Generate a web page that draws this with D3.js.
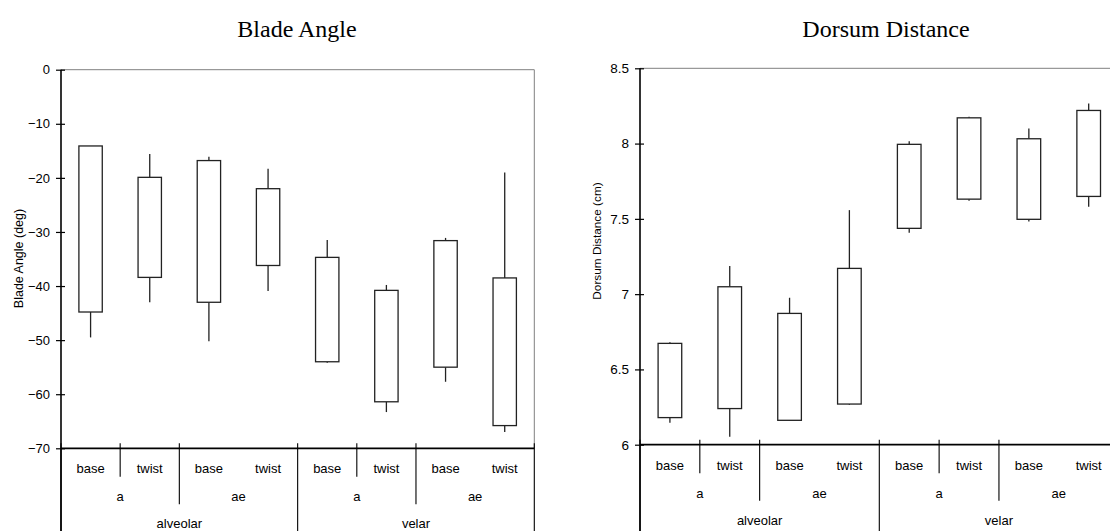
<!DOCTYPE html>
<html>
<head>
<meta charset="utf-8">
<script src="https://cdn.jsdelivr.net/npm/d3@7"></script>
<style>
  html, body { margin: 0; padding: 0; background: #fff; overflow: hidden; }
  svg { display: block; }
  text { font-family: "Liberation Sans", Arial, sans-serif; fill: #000; }
  .title { font-family: "Liberation Serif", "Times New Roman", serif; }
</style>
</head>
<body>
<svg id="chart" width="1110" height="531"></svg>
<script>
// Grouping levels along the x axis
const positions = ["base", "twist"];
const vowels = ["a", "ae"];
const places = ["alveolar", "velar"];

// Blade angle (deg): whisker low, box low, box high, whisker high per condition
const bladeWhiskerLow  = [-49.5, -43.0, -50.2, -40.9, -54.2, -63.3, -57.7, -67.0];
const bladeBoxLow      = [-44.8, -38.4, -43.0, -36.2, -54.0, -61.4, -55.0, -65.8];
const bladeBoxHigh     = [-14.1, -19.9, -16.8, -22.0, -34.7, -40.8, -31.6, -38.5];
const bladeWhiskerHigh = [-14.1, -15.6, -16.1, -18.3, -31.5, -39.8, -31.1, -19.0];
const bladeTicks = [0, -10, -20, -30, -40, -50, -60, -70];

// Dorsum distance (cm)
const dorsumWhiskerLow  = [6.146, 6.053, 6.160, 6.265, 7.408, 7.620, 7.483, 7.580];
const dorsumBoxLow      = [6.180, 6.240, 6.162, 6.270, 7.437, 7.631, 7.497, 7.649];
const dorsumBoxHigh     = [6.673, 7.049, 6.872, 7.171, 7.995, 8.171, 8.032, 8.220];
const dorsumWhiskerHigh = [6.680, 7.187, 6.976, 7.558, 8.015, 8.178, 8.100, 8.267];
const dorsumTicks = [6, 6.5, 7, 7.5, 8, 8.5];

// Conditions in plotting order: place > vowel > position
const conditions = [];
places.forEach(p => vowels.forEach(v => positions.forEach(s => conditions.push(p + "|" + v + "|" + s))));

const svg = d3.select("#chart");

function drawPanel(cfg) {
  const g = svg.append("g");
  const x = d3.scaleBand().domain(conditions).range([cfg.x0, cfg.x1]).padding(0);
  const y = d3.scaleLinear().domain(cfg.domain).range([cfg.yBottom, cfg.yTop]);
  const boxW = x.bandwidth() * 0.395;
  const cx = c => x(c) + x.bandwidth() / 2;

  // frame: thin grey top and right edges
  g.append("line").attr("x1", cfg.x0).attr("x2", cfg.x1).attr("y1", cfg.yTop).attr("y2", cfg.yTop)
    .attr("stroke", "#808080").attr("stroke-width", 1);
  g.append("line").attr("x1", cfg.x1).attr("x2", cfg.x1).attr("y1", cfg.yTop).attr("y2", cfg.yBottom)
    .attr("stroke", "#808080").attr("stroke-width", 1);

  // whiskers and boxes
  const data = conditions.map((c, i) => ({
    c, wl: cfg.wl[i], bl: cfg.bl[i], bh: cfg.bh[i], wh: cfg.wh[i]
  }));
  const items = g.append("g").selectAll("g").data(data).join("g");
  items.append("line")
    .attr("x1", d => cx(d.c)).attr("x2", d => cx(d.c))
    .attr("y1", d => y(d.wh)).attr("y2", d => y(d.bh))
    .attr("stroke", "#222").attr("stroke-width", 1.3);
  items.append("line")
    .attr("x1", d => cx(d.c)).attr("x2", d => cx(d.c))
    .attr("y1", d => y(d.bl)).attr("y2", d => y(d.wl))
    .attr("stroke", "#222").attr("stroke-width", 1.3);
  items.append("rect")
    .attr("x", d => cx(d.c) - boxW / 2).attr("width", boxW)
    .attr("y", d => y(d.bh)).attr("height", d => y(d.bl) - y(d.bh))
    .attr("fill", "#fff").attr("stroke", "#222").attr("stroke-width", 1.3);

  // y axis with ticks crossing the axis line
  const yAxis = g.append("g").attr("transform", `translate(${cfg.x0},0)`)
    .call(d3.axisLeft(y).tickValues(cfg.ticks).tickSize(5).tickPadding(cfg.tickPad).tickFormat(d3.format("")));
  yAxis.select(".domain").remove();
  yAxis.selectAll(".tick line").attr("x1", 4).attr("x2", -5).attr("stroke", "#000").attr("stroke-width", 1.2);
  yAxis.selectAll(".tick text").attr("font-size", cfg.tickFont + "px")
    .style("font-family", '"Liberation Sans", Arial, sans-serif');
  g.append("line").attr("x1", cfg.x0).attr("x2", cfg.x0).attr("y1", cfg.yTop).attr("y2", 531)
    .attr("stroke", "#000").attr("stroke-width", 1.6);

  // x axis baseline
  g.append("line").attr("x1", cfg.x0).attr("x2", cfg.x1).attr("y1", cfg.yBottom).attr("y2", cfg.yBottom)
    .attr("stroke", "#000").attr("stroke-width", 1.8);

  // hierarchical category labels and separators
  const yb = cfg.yBottom;
  const sep = (xx, yEnd) => g.append("line").attr("x1", xx).attr("x2", xx)
    .attr("y1", yb - 5).attr("y2", yEnd).attr("stroke", "#000").attr("stroke-width", 1.1);
  const label = (txt, xx, yy) => g.append("text").attr("x", xx).attr("y", yy)
    .attr("text-anchor", "middle").attr("dominant-baseline", "central")
    .attr("font-size", "13px").text(txt);

  conditions.forEach((c, i) => {
    const [p, v, s] = c.split("|");
    label(s, cx(c), yb + 20.5);
    if (i % 2 === 1 && i % 4 !== 3) sep(x(c), yb + 28.5);
  });
  const step = x.step();
  places.forEach((p, pi) => vowels.forEach((v, vi) => {
    const start = cfg.x0 + (pi * 4 + vi * 2) * step;
    label(v, start + step, yb + 48.5);
    if (vi === 1) sep(start, yb + 56);
  }));
  places.forEach((p, pi) => {
    const start = cfg.x0 + pi * 4 * step;
    label(p, start + 2 * step, yb + 75.5);
    sep(start, 531);
  });
  sep(cfg.x1, 531);

  // axis title
  g.append("text")
    .attr("transform", `translate(${cfg.yTitleX},${cfg.yTitleY}) rotate(-90)`)
    .attr("text-anchor", "middle").attr("dominant-baseline", "central")
    .attr("font-size", cfg.yTitleFont + "px").text(cfg.yTitle);

  // panel title
  g.append("text").attr("class", "title")
    .attr("x", cfg.titleX).attr("y", 37)
    .attr("text-anchor", "middle").attr("font-size", "24px").text(cfg.title);
}

drawPanel({
  x0: 61, x1: 534.3, yTop: 69.7, yBottom: 448.3, domain: [-70, 0],
  wl: bladeWhiskerLow, bl: bladeBoxLow, bh: bladeBoxHigh, wh: bladeWhiskerHigh,
  ticks: bladeTicks, tickPad: 6, tickFont: 13,
  yTitle: "Blade Angle (deg)", yTitleX: 18.5, yTitleY: 258.5, yTitleFont: 12.5,
  title: "Blade Angle", titleX: 297
});

drawPanel({
  x0: 640, x1: 1118.6, yTop: 68.3, yBottom: 444.7, domain: [6, 8.5],
  wl: dorsumWhiskerLow, bl: dorsumBoxLow, bh: dorsumBoxHigh, wh: dorsumWhiskerHigh,
  ticks: dorsumTicks, tickPad: 6, tickFont: 13.5,
  yTitle: "Dorsum Distance (cm)", yTitleX: 597, yTitleY: 241, yTitleFont: 11.8,
  title: "Dorsum Distance", titleX: 886
});
</script>
</body>
</html>
